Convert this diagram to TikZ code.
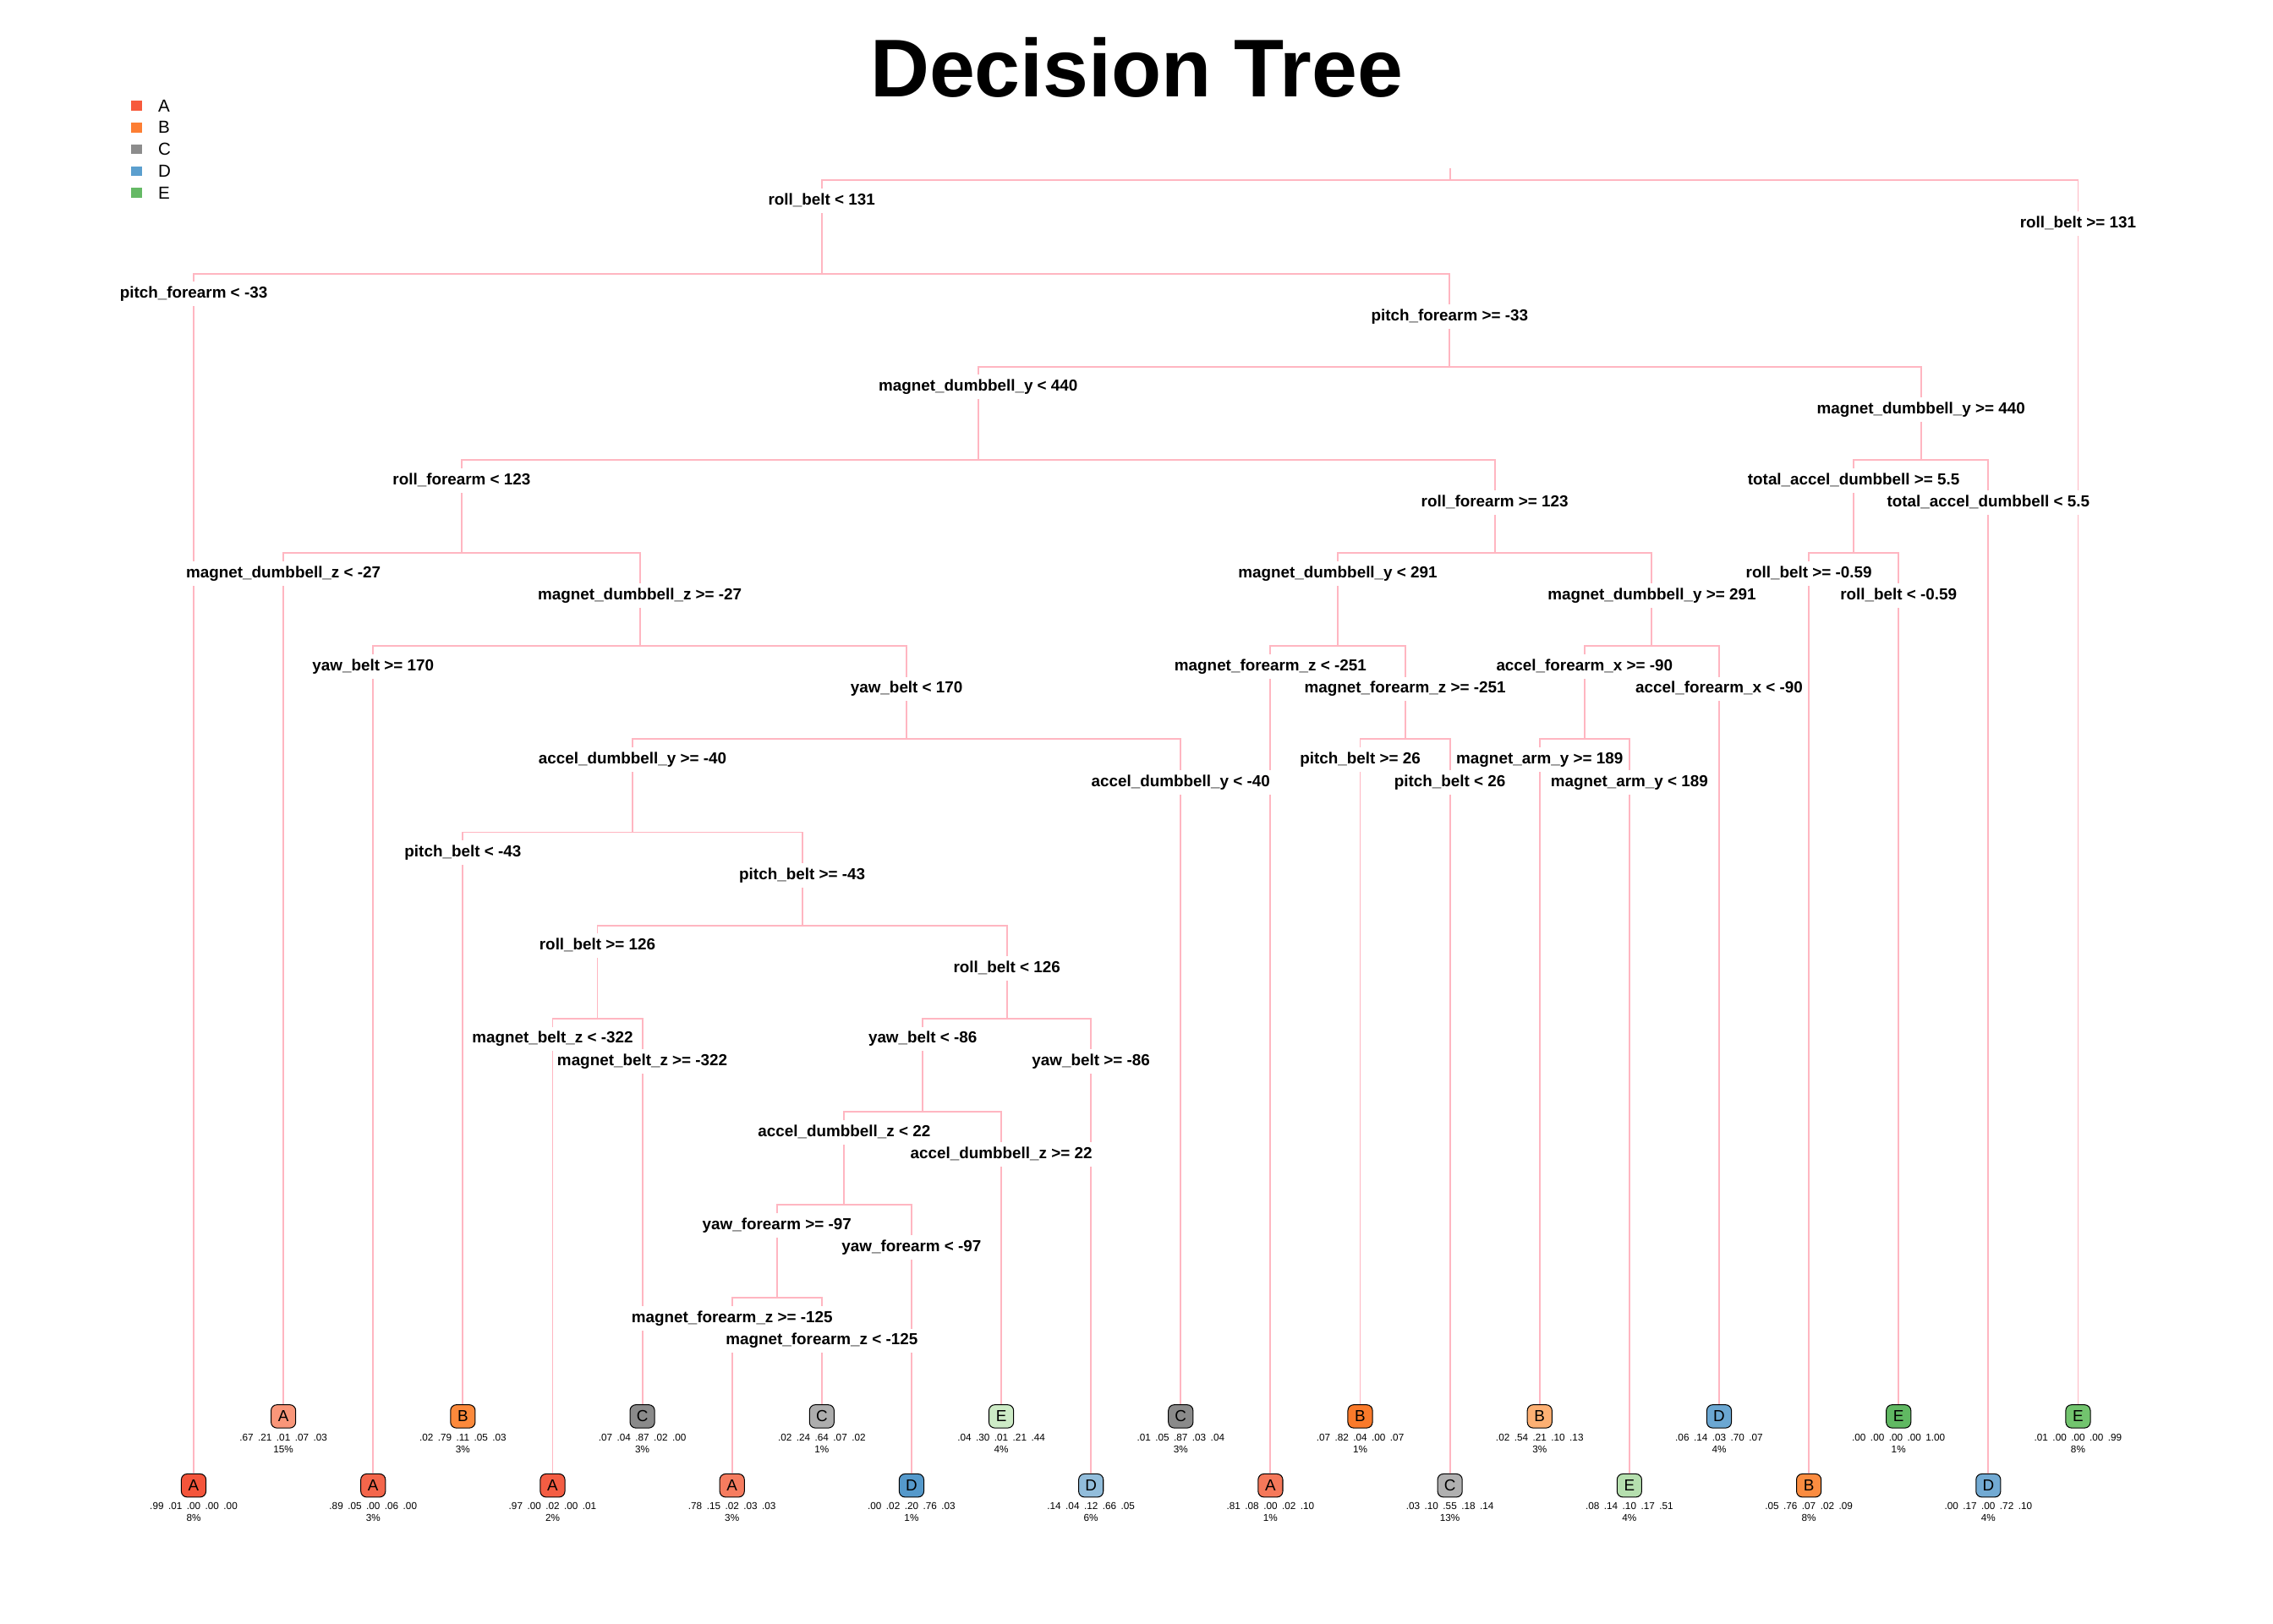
\documentclass[tikz,border=0pt]{standalone}
\usepackage{fontspec}
\setmainfont{Liberation Sans}
\definecolor{pinkline}{HTML}{FFB6C1}
\definecolor{lgA}{HTML}{F75A3C}
\definecolor{lgB}{HTML}{FD7E33}
\definecolor{lgC}{HTML}{8C8C8C}
\definecolor{lgD}{HTML}{5B9FCE}
\definecolor{lgE}{HTML}{65B965}
\newcommand\pp[5]{#1\hspace{3.2pt}#2\hspace{3.2pt}#3\hspace{3.2pt}#4\hspace{3.2pt}#5}
\newcommand\leafnode[7]{%
  \definecolor{fill#1}{HTML}{#4}%
  \node[leafbox,fill=fill#1] (#1) at (#2,#3) {#5};
  \node[probs] (#1p) at ([yshift=-16.8pt]#1.center) {#6};
  \node[probs] (#1q) at ([yshift=-24.9pt]#1.center) {#7\%};}
\tikzset{
  edge/.style={draw=pinkline, line width=1.1pt},
  lab/.style={font=\fontsize{11}{13}\selectfont\bfseries, fill=white, inner xsep=1.5pt, inner ysep=0pt, text height=11.3pt, text depth=5.6pt, anchor=base},
  leafbox/.style={draw=black, line width=0.6pt, rounded corners=4pt, minimum width=17pt, minimum height=16pt, inner sep=0pt, font=\fontsize{11}{11}\selectfont},
  probs/.style={font=\fontsize{6.85}{7}\selectfont, inner sep=0pt, anchor=base},
  legsq/.style={minimum width=7.3pt, minimum height=6.7pt, inner sep=0pt},
  legtx/.style={font=\fontsize{12}{12}\selectfont, anchor=west, inner sep=0pt},
}
\begin{document}
\begin{tikzpicture}[x=1pt,y=-1pt]
\useasboundingbox (0,0) rectangle (1568,1120);
% title
\node[font=\fontsize{56.5}{60}\selectfont\bfseries, anchor=base, inner sep=0pt] (title) at (784,66.7) {Decision Tree};
% legend
\foreach \c/\t [count=\i from 0] in {lgA/A,lgB/B,lgC/C,lgD/D,lgE/E}{
  \node[legsq, fill=\c] (sq\t) at (94.3,73+15*\i) {};
  \node[legtx] (lt\t) at (109,73+15*\i) {\t};
}
% internal split points
\coordinate (top) at (1000.15,116);
\coordinate (root) at (1000.15,124.5);
\coordinate (pf33) at (566.8,188.75);
\coordinate (mdy440) at (1000.0,253.0);
\coordinate (rf123) at (674.8,317.25);
\coordinate (tad55) at (1325.18,317.25);
\coordinate (mdz27) at (318.45,381.5);
\coordinate (mdy291) at (1031.15,381.5);
\coordinate (rb059) at (1278.75,381.5);
\coordinate (yb170) at (441.41,445.75);
\coordinate (mfz251) at (922.83,445.75);
\coordinate (afx90) at (1139.48,445.75);
\coordinate (ady40) at (625.42,510.0);
\coordinate (pb26) at (969.25,510.0);
\coordinate (may189) at (1093.05,510.0);
\coordinate (pb43) at (436.33,574.25);
\coordinate (rb126) at (553.36,638.5);
\coordinate (mbz322) at (412.15,702.75);
\coordinate (yb86) at (694.57,702.75);
\coordinate (adz22) at (636.54,767.0);
\coordinate (yf97) at (582.375,831.25);
\coordinate (mf125) at (535.95,895.5);
% leaves
\leafnode{L0}{133.6}{1025}{F4553B}{A}{\pp{.99}{.01}{.00}{.00}{.00}}{8}
\leafnode{L1}{195.5}{977.3}{F99679}{A}{\pp{.67}{.21}{.01}{.07}{.03}}{15}
\leafnode{L2}{257.4}{1025}{F4664B}{A}{\pp{.89}{.05}{.00}{.06}{.00}}{3}
\leafnode{L3}{319.3}{977.3}{FC893B}{B}{\pp{.02}{.79}{.11}{.05}{.03}}{3}
\leafnode{L4}{381.2}{1025}{F45D43}{A}{\pp{.97}{.00}{.02}{.00}{.01}}{2}
\leafnode{L5}{443.1}{977.3}{8A8A8A}{C}{\pp{.07}{.04}{.87}{.02}{.00}}{3}
\leafnode{L6}{505.0}{1025}{F67C5F}{A}{\pp{.78}{.15}{.02}{.03}{.03}}{3}
\leafnode{L7}{566.9}{977.3}{ADADAD}{C}{\pp{.02}{.24}{.64}{.07}{.02}}{1}
\leafnode{L8}{628.8}{1025}{5599CB}{D}{\pp{.00}{.02}{.20}{.76}{.03}}{1}
\leafnode{L9}{690.7}{977.3}{CDEBC6}{E}{\pp{.04}{.30}{.01}{.21}{.44}}{4}
\leafnode{L10}{752.6}{1025}{92BDDB}{D}{\pp{.14}{.04}{.12}{.66}{.05}}{6}
\leafnode{L11}{814.5}{977.3}{8A8A8A}{C}{\pp{.01}{.05}{.87}{.03}{.04}}{3}
\leafnode{L12}{876.4}{1025}{F5785A}{A}{\pp{.81}{.08}{.00}{.02}{.10}}{1}
\leafnode{L13}{938.3}{977.3}{FA7A2A}{B}{\pp{.07}{.82}{.04}{.00}{.07}}{1}
\leafnode{L14}{1000.2}{1025}{B0B0B0}{C}{\pp{.03}{.10}{.55}{.18}{.14}}{13}
\leafnode{L15}{1062.1}{977.3}{FDB073}{B}{\pp{.02}{.54}{.21}{.10}{.13}}{3}
\leafnode{L16}{1124.0}{1025}{B5DFAE}{E}{\pp{.08}{.14}{.10}{.17}{.51}}{4}
\leafnode{L17}{1185.9}{977.3}{6BA7D2}{D}{\pp{.06}{.14}{.03}{.70}{.07}}{4}
\leafnode{L18}{1247.8}{1025}{FB8C40}{B}{\pp{.05}{.76}{.07}{.02}{.09}}{8}
\leafnode{L19}{1309.7}{977.3}{60B862}{E}{\pp{.00}{.00}{.00}{.00}{1.00}}{1}
\leafnode{L20}{1371.6}{1025}{72AAD3}{D}{\pp{.00}{.17}{.00}{.72}{.10}}{4}
\leafnode{L21}{1433.5}{977.3}{72C46E}{E}{\pp{.01}{.00}{.00}{.00}{.99}}{8}
% connectors
\draw[edge] (top) -- (root);
\draw[edge] (root) -| (pf33);   \draw[edge] (root) -| (L21.north);
\draw[edge] (pf33) -| (L0.north); \draw[edge] (pf33) -| (mdy440);
\draw[edge] (mdy440) -| (rf123); \draw[edge] (mdy440) -| (tad55);
\draw[edge] (rf123) -| (mdz27);  \draw[edge] (rf123) -| (mdy291);
\draw[edge] (tad55) -| (rb059);  \draw[edge] (tad55) -| (L20.north);
\draw[edge] (mdz27) -| (L1.north); \draw[edge] (mdz27) -| (yb170);
\draw[edge] (mdy291) -| (mfz251); \draw[edge] (mdy291) -| (afx90);
\draw[edge] (rb059) -| (L18.north); \draw[edge] (rb059) -| (L19.north);
\draw[edge] (yb170) -| (L2.north); \draw[edge] (yb170) -| (ady40);
\draw[edge] (mfz251) -| (L12.north); \draw[edge] (mfz251) -| (pb26);
\draw[edge] (afx90) -| (may189); \draw[edge] (afx90) -| (L17.north);
\draw[edge] (ady40) -| (pb43); \draw[edge] (ady40) -| (L11.north);
\draw[edge] (pb26) -| (L13.north); \draw[edge] (pb26) -| (L14.north);
\draw[edge] (may189) -| (L15.north); \draw[edge] (may189) -| (L16.north);
\draw[edge] (pb43) -| (L3.north); \draw[edge] (pb43) -| (rb126);
\draw[edge] (rb126) -| (mbz322); \draw[edge] (rb126) -| (yb86);
\draw[edge] (mbz322) -| (L4.north); \draw[edge] (mbz322) -| (L5.north);
\draw[edge] (yb86) -| (adz22); \draw[edge] (yb86) -| (L10.north);
\draw[edge] (adz22) -| (yf97); \draw[edge] (adz22) -| (L9.north);
\draw[edge] (yf97) -| (mf125); \draw[edge] (yf97) -| (L8.north);
\draw[edge] (mf125) -| (L6.north); \draw[edge] (mf125) -| (L7.north);
% split labels
\node[lab] (s1)  at (566.8,141.5)   {roll\_belt < 131};
\node[lab] (s2)  at (1433.5,157.0)  {roll\_belt >= 131};
\node[lab] (s3)  at (133.6,205.75)  {pitch\_forearm < -33};
\node[lab] (s4)  at (1000.0,221.25) {pitch\_forearm >= -33};
\node[lab] (s5)  at (674.8,270.0)   {magnet\_dumbbell\_y < 440};
\node[lab] (s6)  at (1325.18,285.5) {magnet\_dumbbell\_y >= 440};
\node[lab] (s7)  at (318.45,334.25) {roll\_forearm < 123};
\node[lab] (s8)  at (1031.15,349.75){roll\_forearm >= 123};
\node[lab] (s9)  at (1278.75,334.25){total\_accel\_dumbbell >= 5.5};
\node[lab] (s10) at (1371.6,349.75) {total\_accel\_dumbbell < 5.5};
\node[lab] (s11) at (195.5,398.5)   {magnet\_dumbbell\_z < -27};
\node[lab] (s12) at (441.41,414.0)  {magnet\_dumbbell\_z >= -27};
\node[lab] (s13) at (922.83,398.5)  {magnet\_dumbbell\_y < 291};
\node[lab] (s14) at (1139.48,414.0) {magnet\_dumbbell\_y >= 291};
\node[lab] (s15) at (1247.8,398.5)  {roll\_belt >= -0.59};
\node[lab] (s16) at (1309.7,414.0)  {roll\_belt < -0.59};
\node[lab] (s17) at (257.4,462.75)  {yaw\_belt >= 170};
\node[lab] (s18) at (625.42,478.25) {yaw\_belt < 170};
\node[lab] (s19) at (876.4,462.75)  {magnet\_forearm\_z < -251};
\node[lab] (s20) at (969.25,478.25) {magnet\_forearm\_z >= -251};
\node[lab] (s21) at (1093.05,462.75){accel\_forearm\_x >= -90};
\node[lab] (s22) at (1185.9,478.25) {accel\_forearm\_x < -90};
\node[lab] (s23) at (436.33,527.0)  {accel\_dumbbell\_y >= -40};
\node[lab] (s24) at (814.5,542.5)   {accel\_dumbbell\_y < -40};
\node[lab] (s25) at (938.3,527.0)   {pitch\_belt >= 26};
\node[lab] (s26) at (1000.2,542.5)  {pitch\_belt < 26};
\node[lab] (s27) at (1062.1,527.0)  {magnet\_arm\_y >= 189};
\node[lab] (s28) at (1124.0,542.5)  {magnet\_arm\_y < 189};
\node[lab] (s29) at (319.3,591.25)  {pitch\_belt < -43};
\node[lab] (s30) at (553.36,606.75) {pitch\_belt >= -43};
\node[lab] (s31) at (412.15,655.5)  {roll\_belt >= 126};
\node[lab] (s32) at (694.57,671.0)  {roll\_belt < 126};
\node[lab] (s33) at (381.2,719.75)  {magnet\_belt\_z < -322};
\node[lab] (s34) at (443.1,735.25)  {magnet\_belt\_z >= -322};
\node[lab] (s35) at (636.54,719.75) {yaw\_belt < -86};
\node[lab] (s36) at (752.6,735.25)  {yaw\_belt >= -86};
\node[lab] (s37) at (582.375,784.0) {accel\_dumbbell\_z < 22};
\node[lab] (s38) at (690.7,799.5)   {accel\_dumbbell\_z >= 22};
\node[lab] (s39) at (535.95,848.25) {yaw\_forearm >= -97};
\node[lab] (s40) at (628.8,863.75)  {yaw\_forearm < -97};
\node[lab] (s41) at (505.0,912.5)   {magnet\_forearm\_z >= -125};
\node[lab] (s42) at (566.9,928.0)   {magnet\_forearm\_z < -125};
\end{tikzpicture}
\end{document}
